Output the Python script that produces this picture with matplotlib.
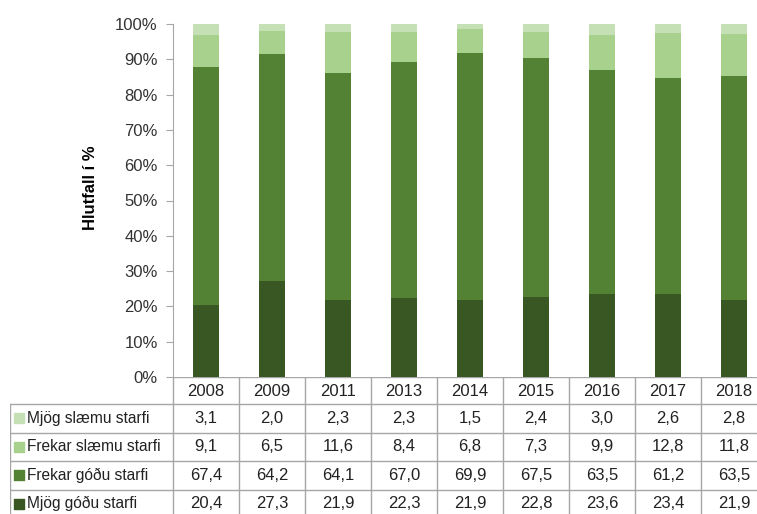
import matplotlib
matplotlib.use("Agg")
import matplotlib.pyplot as plt
import numpy as np

plt.rcParams['font.family'] = ['Liberation Sans', 'DejaVu Sans']

years = ["2008", "2009", "2011", "2013", "2014", "2015", "2016", "2017", "2018"]
mjog_godu = [20.4, 27.3, 21.9, 22.3, 21.9, 22.8, 23.6, 23.4, 21.9]
frekar_godu = [67.4, 64.2, 64.1, 67.0, 69.9, 67.5, 63.5, 61.2, 63.5]
frekar_slaemu = [9.1, 6.5, 11.6, 8.4, 6.8, 7.3, 9.9, 12.8, 11.8]
mjog_slaemu = [3.1, 2.0, 2.3, 2.3, 1.5, 2.4, 3.0, 2.6, 2.8]

series_names = ["Mjög góðu starfi", "Frekar góðu starfi", "Frekar slæmu starfi", "Mjög slæmu starfi"]
series_vals = [mjog_godu, frekar_godu, frekar_slaemu, mjog_slaemu]
colors = ["#385723", "#548235", "#a9d18e", "#c5e0b4"]
ylabel = "Hlutfall í %"

W, H = 757, 514
fig = plt.figure(figsize=(W / 100, H / 100), dpi=100)

colw = 66
ax_left, ax_top, ax_bot = 173, 24, 377
ax_right = ax_left + colw * len(years)
ax = fig.add_axes([ax_left / W, 1 - ax_bot / H, (ax_right - ax_left) / W, (ax_bot - ax_top) / H])

x = np.arange(len(years))
bottom = np.zeros(len(years))
for name, vals, c in zip(series_names, series_vals, colors):
    ax.bar(x, vals, bottom=bottom, width=0.4, color=c, edgecolor="none", label=name)
    bottom += np.array(vals)

ax.set_xlim(-0.5, len(years) - 0.5)
ax.set_ylim(0, 100)
ax.set_yticks(np.arange(0, 101, 10))
ax.set_yticklabels([f"{v}%" for v in range(0, 101, 10)], fontsize=12, color="#333333")
ax.set_xticks([])
for s in ["top", "right", "bottom"]:
    ax.spines[s].set_visible(False)
ax.spines["left"].set_color("#a6a6a6")
ax.tick_params(axis="y", direction="out", length=5, color="#a6a6a6", pad=6)
ax.set_ylabel(ylabel, fontsize=12, fontweight="bold")
ax.yaxis.set_label_coords(-(ax_left - 98) / (ax_right - ax_left), 0.535)

# Data table below the plot, drawn in a pixel-coordinate axes
tb_left, tb_top = 10, ax_bot
tax = fig.add_axes([tb_left / W, 0, (ax_right - tb_left) / W, (H - tb_top) / H])
tax.set_xlim(tb_left, ax_right)
tax.set_ylim(H, tb_top)
tax.axis("off")

header_h = 27
row_h = 28.5
line_c = "#a6a6a6"
lw = 1.0

tax.plot([ax_left, ax_right], [tb_top, tb_top], color=line_c, lw=lw)
for i in range(len(years) + 1):
    xx = ax_left + i * colw
    tax.plot([xx, xx], [tb_top, H], color=line_c, lw=lw)
for i, yr in enumerate(years):
    tax.text(ax_left + (i + 0.5) * colw, tb_top + header_h / 2 + 1, yr,
             ha="center", va="center", fontsize=12, color="#222222")

rows_top = tb_top + header_h
tax.plot([tb_left, tb_left], [rows_top, H], color=line_c, lw=lw)
for r in range(5):
    yy = rows_top + r * row_h
    tax.plot([tb_left, ax_right], [yy, yy], color=line_c, lw=lw)

table_order = list(range(len(series_names)))[::-1]
for r, si in enumerate(table_order):
    yc = rows_top + (r + 0.5) * row_h
    tax.scatter([tb_left + 9], [yc], marker="s", s=45, color=colors[si], clip_on=False)
    tax.text(tb_left + 17, yc, series_names[si], ha="left", va="center", fontsize=11.2, color="#222222")
    for i, v in enumerate(series_vals[si]):
        tax.text(ax_left + (i + 0.5) * colw, yc, f"{v:.1f}".replace(".", ","),
                 ha="center", va="center", fontsize=12, color="#222222")

fig.savefig("out.png", dpi=100)
